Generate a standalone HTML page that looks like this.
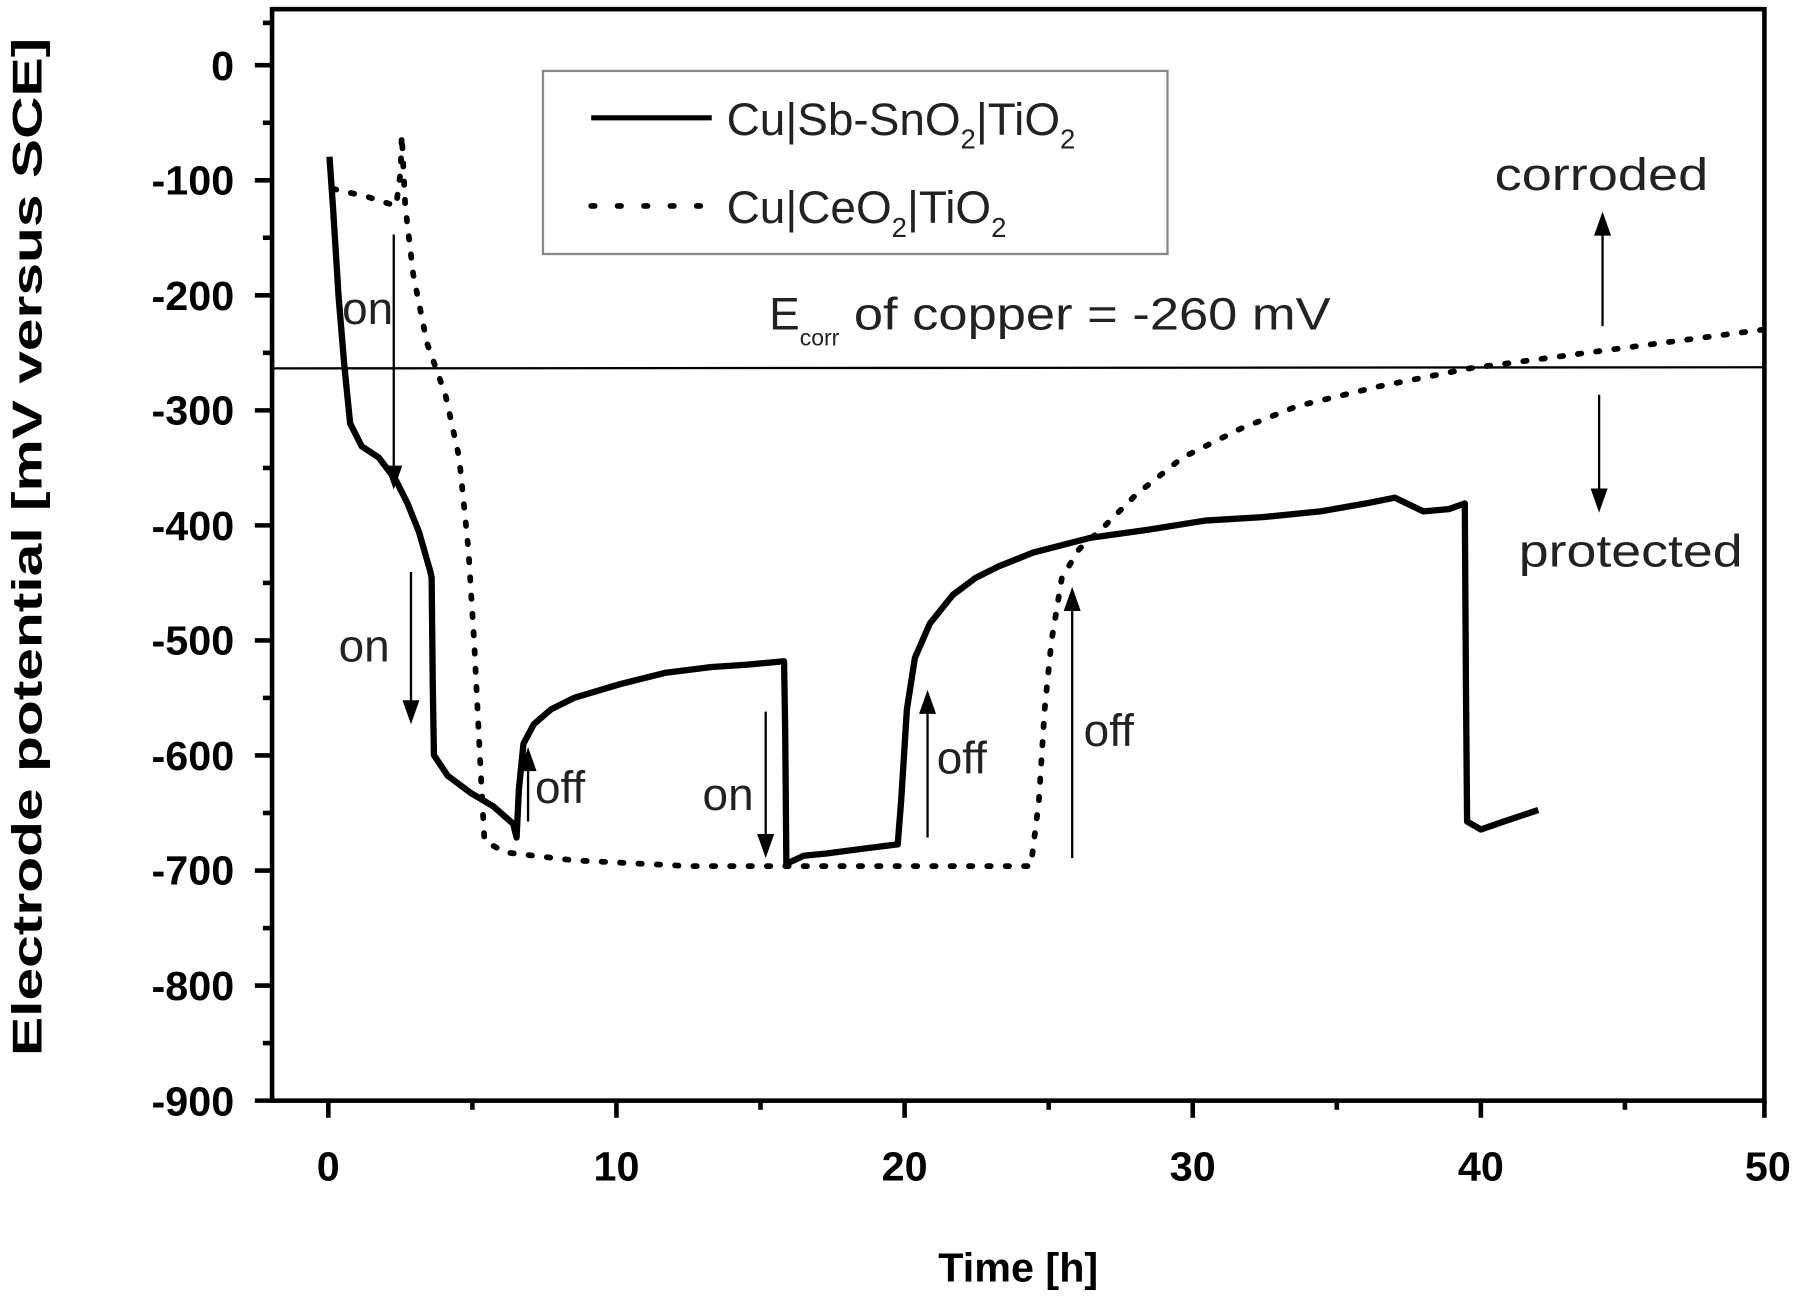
<!DOCTYPE html>
<html><head><style>html,body{margin:0;padding:0;background:#fff}svg{display:block}</style></head>
<body>
<svg width="1800" height="1302" viewBox="0 0 1568 1138" preserveAspectRatio="none" xmlns="http://www.w3.org/2000/svg" font-family="Liberation Sans, sans-serif">
<rect width="1568" height="1138" fill="#fff"/>
<rect x="237" y="8" width="1300" height="954" fill="none" stroke="#000" stroke-width="4"/>
<g stroke="#000" stroke-width="4">
<line x1="237" y1="57" x2="222" y2="57"/><line x1="237" y1="157.6" x2="222" y2="157.6"/><line x1="237" y1="258.1" x2="222" y2="258.1"/><line x1="237" y1="358.7" x2="222" y2="358.7"/><line x1="237" y1="459.2" x2="222" y2="459.2"/><line x1="237" y1="559.8" x2="222" y2="559.8"/><line x1="237" y1="660.3" x2="222" y2="660.3"/><line x1="237" y1="760.9" x2="222" y2="760.9"/><line x1="237" y1="861.4" x2="222" y2="861.4"/><line x1="237" y1="962" x2="222" y2="962"/>
<line x1="237" y1="107.3" x2="229" y2="107.3"/><line x1="237" y1="207.8" x2="229" y2="207.8"/><line x1="237" y1="308.4" x2="229" y2="308.4"/><line x1="237" y1="409" x2="229" y2="409"/><line x1="237" y1="509.5" x2="229" y2="509.5"/><line x1="237" y1="610" x2="229" y2="610"/><line x1="237" y1="710.6" x2="229" y2="710.6"/><line x1="237" y1="811.2" x2="229" y2="811.2"/><line x1="237" y1="911.7" x2="229" y2="911.7"/><line x1="237" y1="20" x2="229" y2="20"/>
<line x1="286" y1="962" x2="286" y2="977"/><line x1="537" y1="962" x2="537" y2="977"/><line x1="788" y1="962" x2="788" y2="977"/><line x1="1039" y1="962" x2="1039" y2="977"/><line x1="1290" y1="962" x2="1290" y2="977"/><line x1="1537" y1="962" x2="1537" y2="977"/>
<line x1="411.5" y1="962" x2="411.5" y2="970"/><line x1="662.5" y1="962" x2="662.5" y2="970"/><line x1="913.5" y1="962" x2="913.5" y2="970"/><line x1="1164.5" y1="962" x2="1164.5" y2="970"/><line x1="1415.5" y1="962" x2="1415.5" y2="970"/>
</g>
<g font-size="36" font-weight="bold" text-anchor="end">
<text x="204" y="70">0</text><text x="204" y="170">-100</text><text x="204" y="271">-200</text><text x="204" y="371">-300</text><text x="204" y="472">-400</text><text x="204" y="572">-500</text><text x="204" y="673">-600</text><text x="204" y="773">-700</text><text x="204" y="874">-800</text><text x="204" y="975">-900</text>
</g>
<g font-size="36" font-weight="bold" text-anchor="middle">
<text x="286" y="1032">0</text><text x="537" y="1032">10</text><text x="788" y="1032">20</text><text x="1039" y="1032">30</text><text x="1290" y="1032">40</text><text x="1540" y="1032">50</text>
<text x="887" y="1120">Time [h]</text>
<text transform="translate(36,478) rotate(-90)" textLength="890" lengthAdjust="spacingAndGlyphs">Electrode potential [mV versus SCE]</text>
</g>
<line x1="237" y1="322" x2="1537" y2="321" stroke="#000" stroke-width="2"/>
<polyline fill="none" stroke="#000" stroke-width="5.5" stroke-linejoin="round" points="287,137 290,180 295,260 300,320 305,370 315,390 330,400 345,420 355,440 365,465 375,500 376,505 377,600 378,660 390,678 410,693 430,705 447,720 450,732 452,690 456,650 465,633 480,620 500,610 540,598 580,588 620,583 650,581 683,578 684,640 685,755 700,748 720,746 750,742 782,738 785,700 790,620 797,575 810,545 830,520 850,505 870,495 900,483 950,470 1000,463 1050,455 1100,452 1150,447 1190,440 1215,435 1240,447 1262,445 1276,440 1277,600 1278,718 1290,725 1310,718 1340,708"/>
<polyline fill="none" stroke="#000" stroke-width="5" stroke-dasharray="3,13" stroke-linecap="round" points="290,165 320,172 345,180 349,150 350,118 353,180 360,240 372,300 388,345 400,400 408,480 413,560 418,660 422,735 440,745 500,752 600,757 700,757 800,757 898,757 905,700 910,620 916,560 925,505 940,480 960,462 990,432 1030,400 1080,375 1130,355 1200,338 1280,322 1400,306 1537,288"/>
<rect x="473" y="62" width="544" height="160" fill="#fff" stroke="#888" stroke-width="2"/>
<line x1="515" y1="103" x2="620" y2="103" stroke="#000" stroke-width="4.5"/>
<line x1="515" y1="180" x2="620" y2="180" stroke="#000" stroke-width="5" stroke-dasharray="3,20" stroke-linecap="round"/>
<g font-size="40" fill="#222">
<text x="633" y="118">Cu|Sb-SnO<tspan font-size="24" dy="12">2</tspan><tspan dy="-12">|TiO</tspan><tspan font-size="24" dy="12">2</tspan></text>
<text x="633" y="195">Cu|CeO<tspan font-size="24" dy="12">2</tspan><tspan dy="-12">|TiO</tspan><tspan font-size="24" dy="12">2</tspan></text>
<text x="670" y="288">E<tspan font-size="20" dy="14">corr</tspan><tspan dy="-14" textLength="428" lengthAdjust="spacingAndGlyphs"> of copper = -260 mV</tspan></text>
<text x="1302" y="166" textLength="186" lengthAdjust="spacingAndGlyphs">corroded</text>
<text x="1323" y="495" textLength="195" lengthAdjust="spacingAndGlyphs">protected</text>
<text x="298" y="283">on</text>
<text x="295" y="578">on</text>
<text x="612" y="708">on</text>
<text x="466" y="702">off</text>
<text x="816" y="676">off</text>
<text x="944" y="652">off</text>
</g>
<g stroke="#000" stroke-width="2" fill="#000">
<line x1="1396" y1="285" x2="1396" y2="200"/><polygon points="1390,205 1396,188 1402,205"/>
<line x1="1393" y1="345" x2="1393" y2="430"/><polygon points="1387,428 1393,445 1399,428"/>
<line x1="343" y1="205" x2="343" y2="410"/><polygon points="337,408 343,425 349,408"/>
<line x1="358" y1="500" x2="358" y2="615"/><polygon points="352,613 358,630 364,613"/>
<line x1="667" y1="622" x2="667" y2="732"/><polygon points="661,730 667,747 673,730"/>
<line x1="460" y1="718" x2="460" y2="670"/><polygon points="454,673 460,656 466,673"/>
<line x1="808" y1="732" x2="808" y2="620"/><polygon points="802,623 808,606 814,623"/>
<line x1="934" y1="750" x2="934" y2="530"/><polygon points="928,533 934,516 940,533"/>
</g>
</svg>
</body></html>
